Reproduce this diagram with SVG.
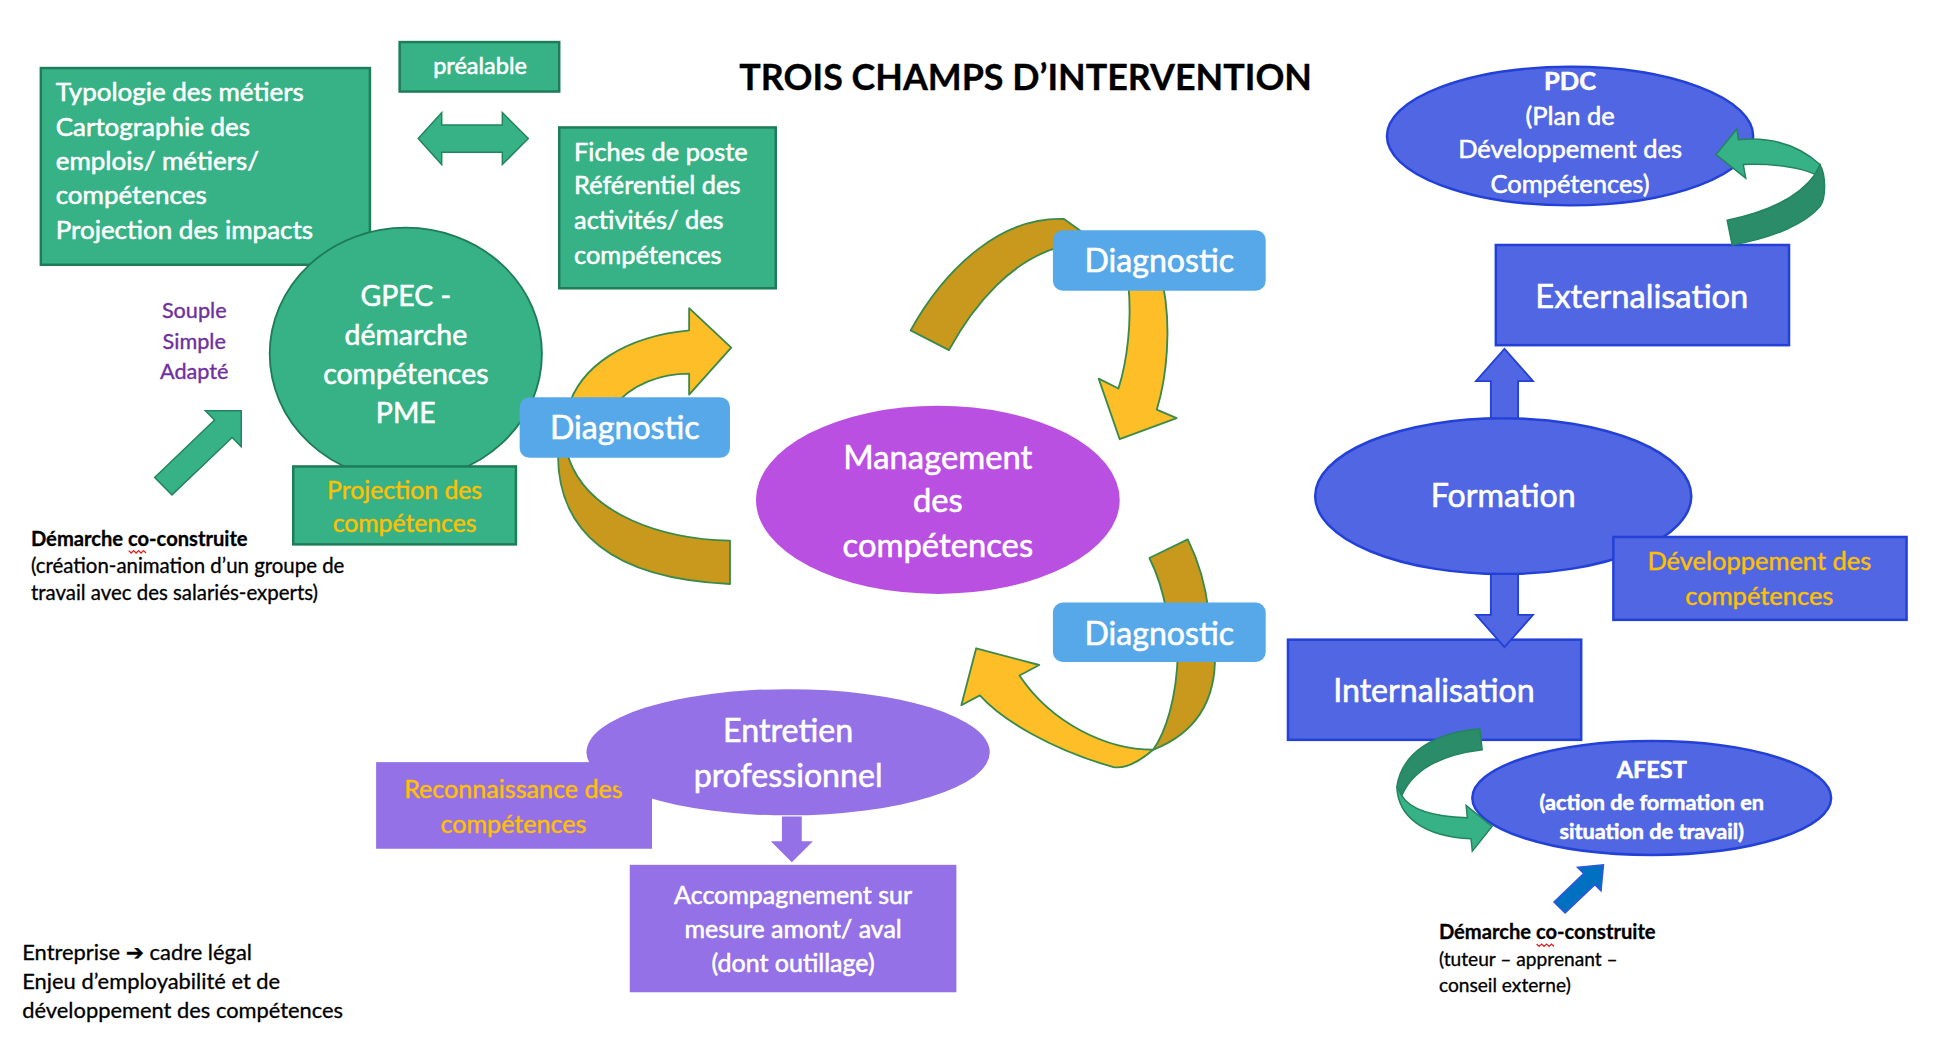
<svg xmlns="http://www.w3.org/2000/svg" width="1940" height="1060" viewBox="0 0 1940 1060">
<defs>
<style>
text{font-family:Lato,"Noto Sans","DejaVu Sans",sans-serif}
.gbox{fill:#36B286;stroke:#1E7C58;stroke-width:2}
.bbox{fill:#5066E2;stroke:#2341D6;stroke-width:2}
.pbox{fill:#9471E6}
.diag{fill:#56A8E8}
.w{fill:#fff;stroke:#fff;stroke-width:0.45}
.y{fill:#FFC000;stroke:#FFC000;stroke-width:0.35}
.k{fill:#000;stroke:#000;stroke-width:0.25}
.c{text-anchor:middle}
.yarr{fill:#FDBE28;stroke:#3B8A4A;stroke-width:1.5;stroke-linejoin:round}
.darr{fill:#C9991E;stroke:#3B8A4A;stroke-width:1.5;stroke-linejoin:round}
.garr{fill:#36B286;stroke:#24845F;stroke-width:1.2}
.dgarr{fill:#2A8C68;stroke:#24845F;stroke-width:1.2}
.barr{fill:#5066E2;stroke:#2341D6;stroke-width:1.5}
.sq{fill:none;stroke:#E02020;stroke-width:1}
</style>
</defs>
<rect width="1940" height="1060" fill="#fff"/>
<g transform="scale(1.23724)">

<g id="title"><text x="829" y="73" class="k c" font-size="29" font-weight="bold">TROIS CHAMPS D’INTERVENTION</text></g>

<g id="typologie">
<rect x="33" y="55" width="266" height="159" class="gbox"/>
<text class="w" font-size="21"><tspan x="45" y="82">Typologie des métiers</tspan><tspan x="45" y="110">Cartographie des</tspan><tspan x="45" y="137">emplois/ métiers/</tspan><tspan x="45" y="165">compétences</tspan><tspan x="45" y="193">Projection des impacts</tspan></text>
</g>

<g id="prealable">
<rect x="323" y="34" width="129" height="40" class="gbox"/>
<text x="388" y="60" class="w c" font-size="19">préalable</text>
</g>

<g id="fiches">
<rect x="452" y="103" width="175" height="130" class="gbox"/>
<text class="w" font-size="20.5"><tspan x="464" y="130">Fiches de poste</tspan><tspan x="464" y="157">Référentiel des</tspan><tspan x="464" y="185">activités/ des</tspan><tspan x="464" y="213">compétences</tspan></text>
</g>

<g id="gpec">
<ellipse cx="328" cy="286" rx="110" ry="102" fill="#36B286" stroke="#1E7C58" stroke-width="1.5"/>
<text class="w c" font-size="23"><tspan x="328" y="247">GPEC -</tspan><tspan x="328" y="279">démarche</tspan><tspan x="328" y="310">compétences</tspan><tspan x="328" y="342">PME</tspan></text>
</g>

<g id="projection">
<rect x="237" y="377" width="180" height="63" class="gbox"/>
<text class="y c" font-size="20"><tspan x="327" y="403">Projection des</tspan><tspan x="327" y="430">compétences</tspan></text>
</g>

<g id="souple">
<text class="c" fill="#7030A0" stroke="#7030A0" stroke-width="0.3" font-size="17.5"><tspan x="157" y="257">Souple</tspan><tspan x="157" y="282">Simple</tspan><tspan x="157" y="306">Adapté</tspan></text>
</g>

<g id="demarche-left">
<text class="k" font-size="16.3" font-weight="bold" x="25" y="441">Démarche co-construite</text>
<path class="sq" d="M104,445 l2,2 l2,-2 l2,2 l2,-2 l2,2 l2,-2 l2,2"/>
<text class="k" font-size="16.5"><tspan x="25" y="463">(création-animation d’un groupe de</tspan><tspan x="25" y="485">travail avec des salariés-experts)</tspan></text>
</g>

<g id="entreprise">
<text class="k" font-size="17.7"><tspan x="18" y="776">Entreprise ➔ cadre légal</tspan><tspan x="18" y="799">Enjeu d’employabilité et de</tspan><tspan x="18" y="823">développement des compétences</tspan></text>
</g>

<g id="management">
<ellipse cx="758" cy="404" rx="147" ry="76" fill="#B950E2"/>
<text class="w c" font-size="26.5"><tspan x="758" y="379">Management</tspan><tspan x="758" y="414">des</tspan><tspan x="758" y="450">compétences</tspan></text>
</g>

<g id="reconnaissance">
<rect x="304" y="616" width="223" height="70" class="pbox"/>
<text class="y c" font-size="20.3"><tspan x="415" y="645">Reconnaissance des</tspan><tspan x="415" y="673">compétences</tspan></text>
</g>

<g id="entretien">
<ellipse cx="637" cy="608" rx="163" ry="51" fill="#9471E6"/>
<text class="w c" font-size="26"><tspan x="637" y="600">Entretien</tspan><tspan x="637" y="636">professionnel</tspan></text>
</g>

<g id="accompagnement">
<rect x="509" y="699" width="264" height="103" class="pbox"/>
<text class="w c" font-size="20.2"><tspan x="641" y="731">Accompagnement sur</tspan><tspan x="641" y="758">mesure amont/ aval</tspan><tspan x="641" y="786">(dont outillage)</tspan></text>
</g>

<g id="pdc">
<ellipse cx="1269" cy="110" rx="148" ry="56" fill="#5066E2" stroke="#2341D6" stroke-width="2"/>
<text class="w c" font-size="20.6"><tspan x="1269" y="73" font-weight="bold">PDC</tspan><tspan x="1269" y="101">(Plan de</tspan><tspan x="1269" y="128">Développement des</tspan><tspan x="1269" y="156">Compétences)</tspan></text>
</g>

<g id="externalisation">
<rect x="1209" y="198" width="237" height="81" class="bbox"/>
<text x="1327" y="249" class="w c" font-size="26.4">Externalisation</text>
</g>

<g id="formation">
<ellipse cx="1215" cy="401" rx="152" ry="63" fill="#5066E2" stroke="#2341D6" stroke-width="2"/>
<text x="1215" y="410" class="w c" font-size="26">Formation</text>
</g>

<g id="developpement">
<rect x="1304" y="434" width="237" height="67" class="bbox"/>
<text class="y c" font-size="20.6"><tspan x="1422" y="461">Développement des</tspan><tspan x="1422" y="489">compétences</tspan></text>
</g>

<g id="internalisation">
<rect x="1041" y="517" width="237" height="81" class="bbox"/>
<text x="1159" y="567" class="w c" font-size="26">Internalisation</text>
</g>

<g id="afest">
<ellipse cx="1335" cy="645" rx="145" ry="46" fill="#5066E2" stroke="#2341D6" stroke-width="2"/>
<text class="w c" font-weight="bold"><tspan x="1335" y="629" font-size="19">AFEST</tspan><tspan x="1335" y="655" font-size="17.5">(action de formation en</tspan><tspan x="1335" y="678" font-size="17.5">situation de travail)</tspan></text>
</g>

<g id="demarche-right">
<text class="k" font-size="16.3" font-weight="bold" x="1163" y="759">Démarche co-construite</text>
<path class="sq" d="M1242,763 l2,2 l2,-2 l2,2 l2,-2 l2,2 l2,-2 l2,2"/>
<text class="k" font-size="15.5"><tspan x="1163" y="781">(tuteur – apprenant –</tspan><tspan x="1163" y="802">conseil externe)</tspan></text>
</g>

<g id="connectors">
<!-- green diagonal arrow left -->
<path class="garr" d="M195,332 L195,361 L187.6,353.6 L139,400 L125,386 L173.4,339.4 L166,332 Z"/>
<!-- double arrow -->
<path class="garr" d="M338,112 L357,91 L357,101 L406,101 L406,91 L427,112 L406,133 L406,123 L357,123 L357,133 Z"/>
<!-- left cycle -->
<path class="yarr" d="M459,330 C469,296 505,272 557,267 L557,249 L591,281 L557,319 L557,302 C535,302 510,310 495,330 Z"/>
<path class="darr" d="M451,365 C450,430 495,468 590,472 L590,437 C540,436 472,418 458,365 Z"/>
<!-- top cycle -->
<path class="darr" d="M736,267 C765,215 810,175 860,177 L878,190 L860,199 C818,208 786,248 767,283 Z"/>
<path class="yarr" d="M912,230 C915,260 911,292 904,314 L888,306 L905,355 L951,338 L935,331 C943,305 947,265 940,230 Z"/>
<!-- bottom-right cycle -->
<path class="darr" d="M929,451 L960,436 C968,452 974,470 977,495 L943,495 C940,478 935,463 929,451 Z"/>
<path class="darr" d="M952,528 L982,528 C983,565 968,592 932,606 C942,592 951,565 952,528 Z"/>
<path class="yarr" d="M932,606 C895,606 850,585 824,546 L840,537.5 L789,524 L777,570 L792,562 C810,582 850,606 900,620 C912,622 925,612 932,606 Z"/>
<!-- purple down arrow -->
<path d="M632,660 L632,680 L623,680 L640,697 L657,680 L648,680 L648,660 Z" fill="#9471E6"/>
<!-- PDC green arrow -->
<path class="dgarr" d="M1471,133 C1476,142 1476,160 1471,167 C1460,180 1435,192 1400,198 L1396,178 C1425,172 1452,162 1467,141 Z"/>
<path class="garr" d="M1405,113 C1425,111 1450,114 1471,133 L1467,141 C1458,136 1435,132 1409,133 L1411,144 L1387,125 L1404,104 Z"/>
<!-- formation arrows -->
<path class="barr" d="M1205,338 L1205,308 L1193,308 L1216,282 L1239,308 L1227,308 L1227,338 Z"/>
<path class="barr" d="M1205,464 L1205,497 L1193,497 L1216,523 L1239,497 L1227,497 L1227,464 Z"/>
<!-- AFEST green arrow -->
<path class="dgarr" d="M1196,589 C1160,592 1133,608 1129,636 L1133,643 C1142,622 1165,610 1198,606 Z"/>
<path class="garr" d="M1129,636 C1130,660 1150,676 1189,678 L1190,688 L1206,668 L1185,651 L1186,661 C1160,660 1140,655 1133,643 Z"/>
<!-- blue diagonal arrow -->
<path d="M1296,699 L1294,720 L1289,715 L1265,738 L1256,729 L1280,706 L1275,701 Z" fill="#0070C0" stroke="#3355DD" stroke-width="1.2"/>
</g>

<g id="diagnostic-left">
<rect x="420" y="321" width="170" height="49" rx="8" class="diag"/>
<text x="505" y="355" class="w c" font-size="26">Diagnostic</text>
</g>
<g id="diagnostic-top">
<rect x="851" y="186" width="172" height="49" rx="8" class="diag"/>
<text x="937" y="220" class="w c" font-size="26">Diagnostic</text>
</g>
<g id="diagnostic-bottom">
<rect x="851" y="487" width="172" height="48" rx="8" class="diag"/>
<text x="937" y="521" class="w c" font-size="26">Diagnostic</text>
</g>

</g>
</svg>
